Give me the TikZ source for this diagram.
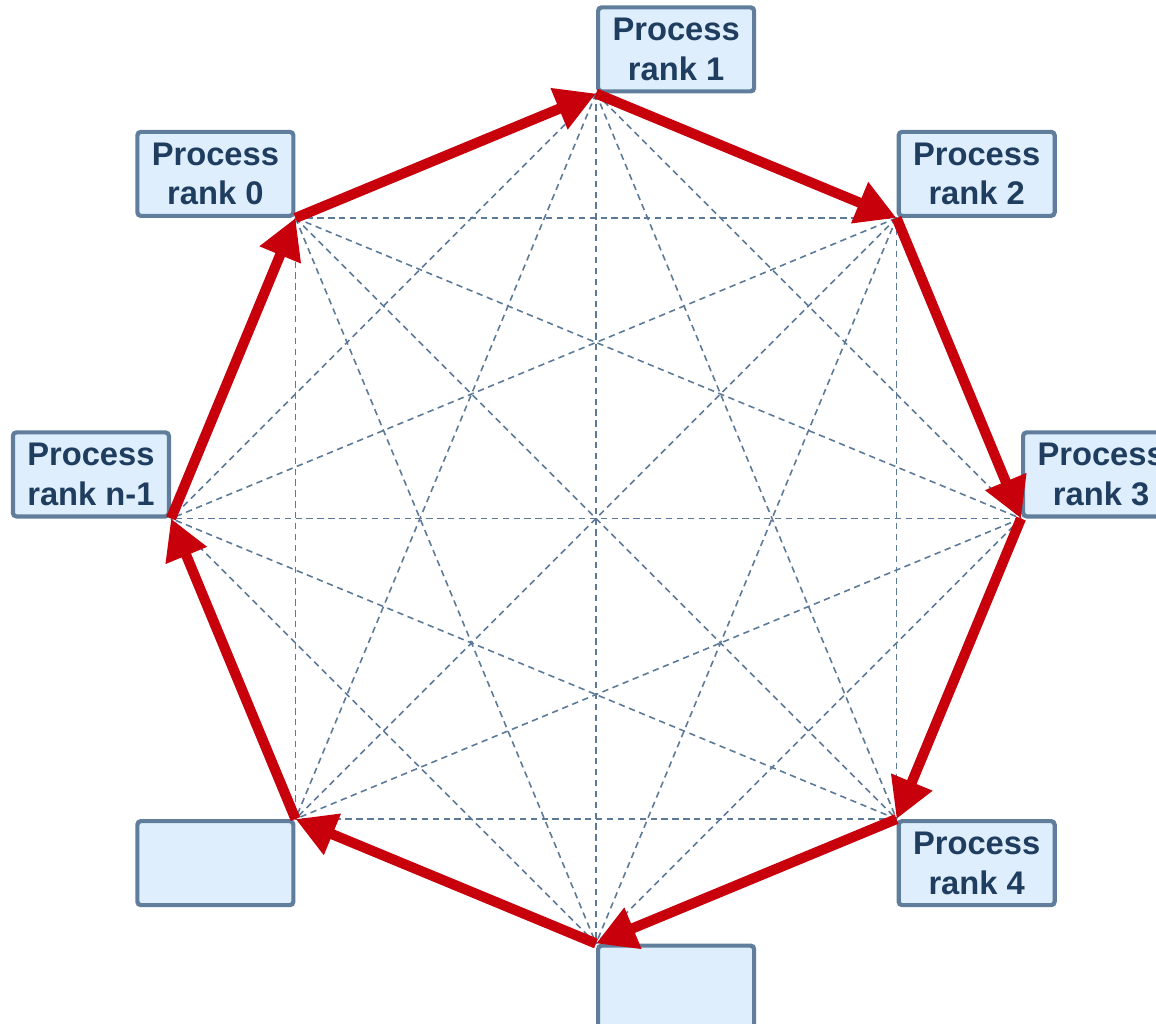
\documentclass[tikz,border=0pt]{standalone}
\usepackage{fontspec}
\setmainfont{Liberation Sans}
\usetikzlibrary{arrows.meta,positioning,calc}

\definecolor{ringred}{RGB}{200,0,12}
\definecolor{boxedge}{RGB}{96,126,156}
\definecolor{boxfill}{RGB}{222,238,252}
\definecolor{boxtext}{RGB}{31,61,94}
\definecolor{diagblue}{RGB}{92,122,152}

\tikzset{
	procbox/.style={draw=boxedge, fill=boxfill, line width=1.2pt, rounded corners=1pt,
		minimum width=1.56cm, minimum height=0.84cm, inner sep=0pt, align=center,
		text=boxtext, font=\fontsize{9.3}{11.3}\selectfont\bfseries},
	diag/.style={diagblue, line width=0.45pt, dash pattern=on 1.8pt off 1.3pt},
	ring/.style={ringred, line width=2.9pt, -{Triangle[length=0.40cm, width=0.42cm]}}
}

\begin{document}
\begin{tikzpicture}
	\useasboundingbox (0,0) rectangle (11.56,-10.23);
	\clip (0,0) rectangle (11.56,-10.23);
	
	% Corners of the ring
	\coordinate (c) at (5.96,-5.185);
	\foreach \i in {0,...,7} {
		\coordinate (v\i) at ($(c)+({135-45*\i}:4.25)$);
	}
	
	% Process boxes
	\node[procbox, anchor=south east] (r0) at (v0) {Process\\rank 0};
	\node[procbox, anchor=south west] (r1) at (v1) {Process\\rank 1};
	\node[procbox, anchor=south west] (r2) at (v2) {Process\\rank 2};
	\node[procbox, anchor=south west] (r3) at (v3) {Process\\rank 3};
	\node[procbox, anchor=north west] (r4) at (v4) {Process\\rank 4};
	\node[procbox, anchor=north west] (r5) at (v5) {};
	\node[procbox, anchor=north east] (r6) at (v6) {};
	\node[procbox, anchor=south east] (rn) at (v7) {Process\\rank n-1};
	
	% All pairs of processes
	\foreach \i in {0,...,6} {
		\pgfmathtruncatemacro\k{\i+1}
		\foreach \j in {\k,...,7}
			\draw[diag] (v\i) -- (v\j);
	}
	
	% Ring
	\foreach \i [evaluate=\i as \n using {int(mod(\i+1,8))}] in {0,...,7}
		\draw[ring] (v\i) -- (v\n);
\end{tikzpicture}
\end{document}
